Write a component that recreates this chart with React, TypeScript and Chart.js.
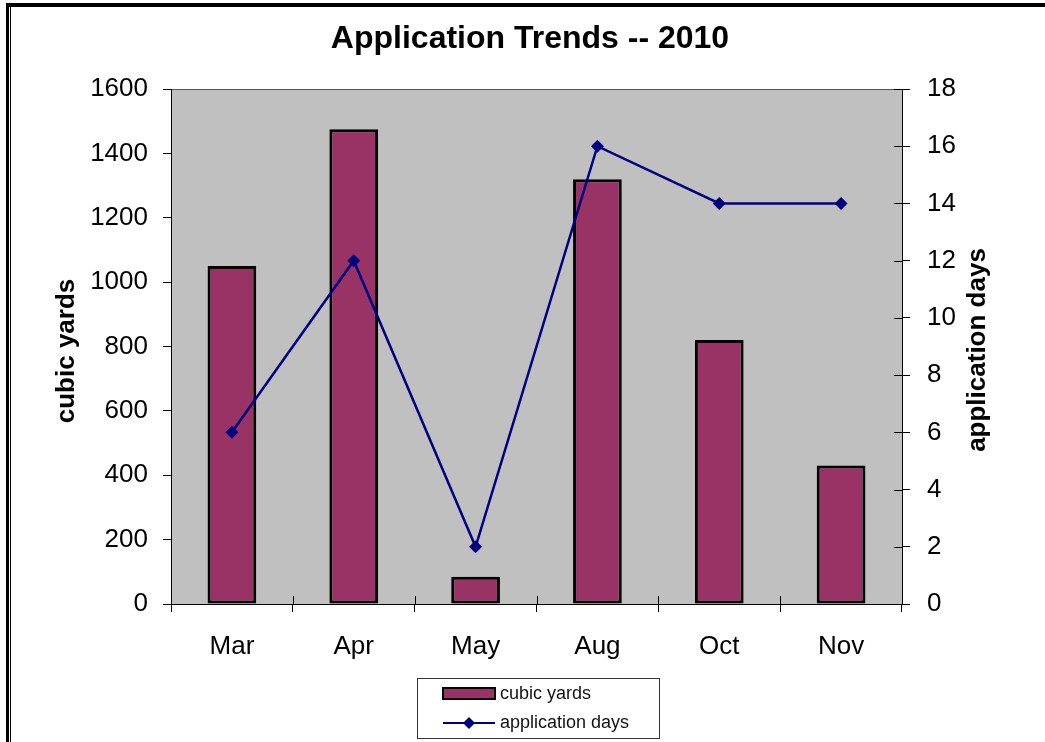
import React, { useEffect, useRef } from "react";
import { Chart, registerables } from "chart.js";

Chart.register(...registerables);

const categories = ["Mar", "Apr", "May", "Aug", "Oct", "Nov"];
const cubicYards = [1050, 1475, 85, 1320, 820, 430];
const applicationDays = [6, 12, 2, 16, 14, 14];
const chartTitle = "Application Trends -- 2010";
const leftAxisTitle = "cubic yards";
const rightAxisTitle = "application days";

const FONT = '"Liberation Sans", Arial, sans-serif';
const BAR_COLOR = "#993366";
const LINE_COLOR = "#000080";

const decorPlugin = {
  id: "decor",
  beforeDraw(chart: any) {
    const { ctx, chartArea: a, width, height } = chart;
    ctx.save();
    ctx.fillStyle = "#ffffff";
    ctx.fillRect(0, 0, width, height);
    ctx.fillStyle = "#C0C0C0";
    ctx.fillRect(a.left, a.top, a.right - a.left, a.bottom - a.top);
    ctx.strokeStyle = "#555555";
    ctx.lineWidth = 1;
    ctx.strokeRect(a.left + 0.5, a.top + 0.5, a.right - a.left, a.bottom - a.top);
    // frame
    ctx.fillStyle = "#000000";
    ctx.fillRect(6, 3, width - 6, 4);
    ctx.fillRect(6, 3, 3, height);
    ctx.fillRect(10, 7, 1, height);
    ctx.restore();
  },
  afterDraw(chart: any) {
    const { ctx, chartArea: a } = chart;
    ctx.save();
    // title
    ctx.fillStyle = "#000";
    ctx.font = `bold 32px ${FONT}`;
    ctx.textAlign = "center";
    ctx.textBaseline = "alphabetic";
    ctx.fillText(chartTitle, 530, 48);
    // axis titles
    ctx.font = `bold 26px ${FONT}`;
    ctx.textBaseline = "middle";
    ctx.save();
    ctx.translate(67, 351);
    ctx.rotate(-Math.PI / 2);
    ctx.fillText(leftAxisTitle, 0, 0);
    ctx.restore();
    ctx.save();
    ctx.translate(978, 350);
    ctx.rotate(-Math.PI / 2);
    ctx.fillText(rightAxisTitle, 0, 0);
    ctx.restore();
    // inward ticks
    ctx.strokeStyle = "#000";
    ctx.lineWidth = 1;
    const y1 = chart.scales.y1;
    y1.ticks.forEach((_t: any, i: number) => {
      const py = Math.round(y1.getPixelForTick(i)) + 0.5;
      ctx.beginPath();
      ctx.moveTo(a.right - 8, py);
      ctx.lineTo(a.right, py);
      ctx.stroke();
    });
    const xs = chart.scales.x;
    const n = categories.length;
    for (let i = 0; i <= n; i++) {
      const px = Math.round(xs.getPixelForValue(i - 0.5)) + 0.5;
      ctx.beginPath();
      ctx.moveTo(px, a.bottom - 8);
      ctx.lineTo(px, a.bottom);
      ctx.stroke();
    }
    // legend
    const lx = 417, ly = 678, lw = 242, lh = 60;
    ctx.fillStyle = "#fff";
    ctx.fillRect(lx, ly, lw, lh);
    ctx.strokeStyle = "#333";
    ctx.strokeRect(lx + 0.5, ly + 0.5, lw, lh);
    const ds = chart.data.datasets;
    const barDs = ds.find((d: any) => d.type === "bar");
    const lineDs = ds.find((d: any) => d.type === "line");
    ctx.fillStyle = BAR_COLOR;
    ctx.fillRect(443, 688, 52, 11);
    ctx.strokeStyle = "#000";
    ctx.lineWidth = 2;
    ctx.strokeRect(443, 688, 52, 11);
    ctx.strokeStyle = LINE_COLOR;
    ctx.lineWidth = 2;
    ctx.beginPath();
    ctx.moveTo(443, 723);
    ctx.lineTo(495, 723);
    ctx.stroke();
    ctx.fillStyle = LINE_COLOR;
    ctx.beginPath();
    ctx.moveTo(469, 717);
    ctx.lineTo(475, 723);
    ctx.lineTo(469, 729);
    ctx.lineTo(463, 723);
    ctx.closePath();
    ctx.fill();
    ctx.fillStyle = "#111";
    ctx.font = `18px ${FONT}`;
    ctx.textAlign = "left";
    ctx.textBaseline = "middle";
    ctx.fillText(barDs.label, 500, 694);
    ctx.fillText(lineDs.label, 500, 723);
    ctx.restore();
  },
};

export default function App() {
  const ref = useRef<HTMLCanvasElement>(null);
  useEffect(() => {
    if (!ref.current) return;
    const chart = new Chart(ref.current, {
      type: "bar",
      data: {
        labels: categories,
        datasets: [
          {
            type: "line",
            label: "application days",
            data: applicationDays,
            yAxisID: "y1",
            borderColor: LINE_COLOR,
            backgroundColor: LINE_COLOR,
            borderWidth: 2.5,
            pointStyle: "rectRot",
            pointRadius: 6.5,
            pointBorderWidth: 0,
            pointBackgroundColor: LINE_COLOR,
            tension: 0,
            order: 0,
          } as any,
          {
            type: "bar",
            label: "cubic yards",
            data: cubicYards,
            yAxisID: "y",
            backgroundColor: BAR_COLOR,
            borderColor: "#000",
            borderWidth: 3,
            borderSkipped: false,
            categoryPercentage: 1,
            barPercentage: 0.4,
            order: 1,
          },
        ],
      },
      options: {
        animation: false,
        responsive: false,
        layout: { padding: { top: 89, left: 0, right: 0, bottom: 0 } },
        plugins: { legend: { display: false }, title: { display: false }, tooltip: { enabled: false } },
        scales: {
          x: {
            offset: true,
            grid: { offset: true, drawOnChartArea: false, drawTicks: true, tickLength: 8, color: "#000" },
            border: { display: true, color: "#000", width: 1 },
            ticks: { color: "#000", font: { family: FONT, size: 26 }, padding: 19, maxRotation: 0 },
            afterFit: (s: any) => { s.height = 138; },
          },
          y: {
            position: "left",
            min: 0,
            max: 1600,
            grid: { drawOnChartArea: false, drawTicks: true, tickLength: 8, color: "#000" },
            border: { display: true, color: "#000", width: 1 },
            ticks: { stepSize: 200, color: "#000", font: { family: FONT, size: 26 }, padding: 15, callback: (v: any) => String(v) },
            afterFit: (s: any) => { s.width = 171; },
          },
          y1: {
            position: "right",
            min: 0,
            max: 18,
            grid: { drawOnChartArea: false, drawTicks: true, tickLength: 8, color: "#000" },
            border: { display: true, color: "#000", width: 1 },
            ticks: { stepSize: 2, color: "#000", font: { family: FONT, size: 26 }, padding: 17, callback: (v: any) => String(v) },
            afterFit: (s: any) => { s.width = 143; },
          },
        },
      },
      plugins: [decorPlugin],
    });
    return () => chart.destroy();
  }, []);
  return (
    <div style={{ position: "absolute", left: 0, top: 0, width: 1045, height: 742 }}>
      <canvas ref={ref} width={1045} height={742} style={{ display: "block" }} />
    </div>
  );
}
